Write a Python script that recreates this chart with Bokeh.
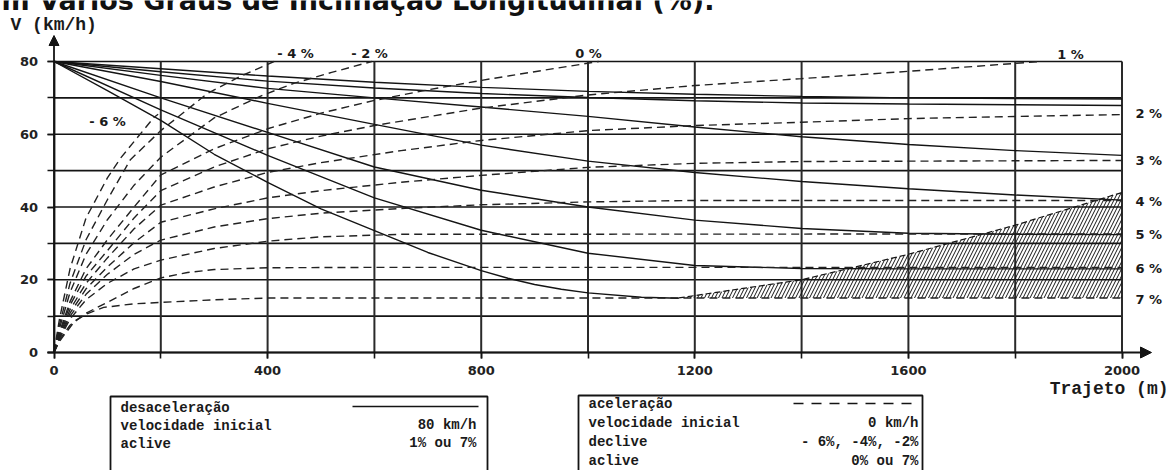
from bokeh.plotting import figure
from bokeh.models import Range1d, LinearAxis, FixedTicker, Arrow, NormalHead, Label, ColumnDataSource
from bokeh.core.properties import value
from bokeh.embed import file_html
from bokeh.resources import INLINE

# ---------------- data ----------------
x_ticks = [0, 200, 400, 600, 800, 1000, 1200, 1400, 1600, 1800, 2000]
x_tick_labels = [0, 400, 800, 1200, 1600, 2000]
y_ticks = [0, 10, 20, 30, 40, 50, 60, 70, 80]
y_tick_labels = [0, 20, 40, 60, 80]

# deceleration curves (solid), initial speed 80 km/h, upgrades 1 % .. 7 %
dec_x = [0, 200, 400, 600, 800, 1000, 1200, 1400, 1600, 1800, 2000]
dec_1 = [80, 78.0, 76.0, 74.3, 72.9, 71.8, 71.0, 70.4, 70.0, 69.8, 69.7]
dec_2 = [80, 77.2, 74.6, 72.7, 71.2, 70.1, 69.2, 68.6, 68.3, 68.1, 67.9]
dec_3 = [80, 76.2, 72.6, 70.0, 67.5, 64.9, 62.0, 59.3, 57.2, 55.5, 54.2]
dec_4 = [80, 74.5, 68.5, 62.7, 57.0, 52.6, 49.5, 47.0, 45.0, 43.3, 41.9]
dec_5 = [80, 70.0, 60.5, 51.0, 44.6, 40.0, 36.4, 34.1, 32.8, 32.5, 32.4]
dec_6 = [80, 66.7, 54.2, 42.5, 33.6, 27.3, 23.9, 23.1, 23.0, 23.0, 23.0]
dec7_x = [0, 100, 200, 300, 400, 500, 600, 700, 800, 850, 900, 950, 1000, 1100, 1170]
dec_7 = [80, 72.0, 63.8, 54.5, 46.8, 39.5, 33.5, 27.5, 22.5, 20.4, 18.7, 17.4, 16.4, 15.2, 14.9]

# acceleration curves (dashed), initial speed 0 km/h
acc_m6_x = [0, 10, 30, 60, 100, 125, 150, 187, 195]
acc_m6 = [0, 9.0, 23.0, 37.0, 48.0, 53.5, 58.0, 64.6, 65.5]
acc_m4_x = [0, 10, 30, 60, 100, 143, 200, 231, 287, 350, 412]
acc_m4 = [0, 7.5, 19.0, 31.0, 42.0, 53.0, 61.0, 64.6, 71.2, 76.0, 80.0]
acc_m2_x = [0, 10, 30, 60, 100, 150, 200, 300, 387, 449, 520, 595]
acc_m2 = [0, 6.5, 16.5, 27.0, 36.5, 46.0, 53.7, 64.5, 70.5, 74.0, 77.0, 80.0]
acc_0_x = [0, 10, 30, 60, 100, 150, 200, 300, 400, 500, 600, 700, 800, 900, 1020]
acc_0 = [0, 5.5, 14.0, 23.0, 31.0, 40.0, 48.8, 56.0, 61.5, 65.8, 69.3, 72.2, 74.8, 77.2, 80.0]
acc_1_x = [0, 10, 30, 60, 100, 150, 200, 300, 400, 500, 600, 800, 1000, 1200, 1400, 1600, 1847]
acc_1 = [0, 5.0, 13.0, 21.0, 28.0, 37.0, 44.5, 51.0, 56.0, 59.5, 62.4, 67.2, 70.8, 73.4, 75.3, 77.3, 80.0]
acc_2_x = [0, 10, 30, 60, 100, 150, 200, 300, 400, 500, 650, 800, 1000, 1200, 1400, 1600, 1800, 2000]
acc_2 = [0, 4.6, 11.8, 19.0, 26.0, 34.0, 40.5, 45.5, 49.5, 52.2, 55.5, 58.3, 61.0, 62.4, 63.3, 64.3, 64.9, 65.4]
acc_3_x = [0, 10, 30, 60, 100, 150, 200, 300, 400, 500, 650, 800, 1000, 1200, 1400, 2000]
acc_3 = [0, 4.3, 10.8, 17.5, 23.5, 30.2, 35.8, 39.5, 42.5, 44.5, 46.8, 48.7, 50.9, 52.0, 52.5, 52.8]
acc_4_x = [0, 10, 30, 60, 100, 150, 200, 300, 400, 500, 650, 800, 1000, 1200, 2000]
acc_4 = [0, 4.0, 10.0, 16.0, 21.5, 27.0, 30.9, 34.5, 36.8, 38.3, 39.6, 40.6, 41.4, 41.8, 41.8]
acc_5_x = [0, 10, 30, 60, 100, 150, 200, 300, 400, 500, 650, 2000]
acc_5 = [0, 3.7, 9.2, 14.5, 19.0, 23.0, 25.4, 28.6, 30.6, 31.8, 32.5, 32.6]
acc_6_x = [0, 10, 30, 60, 100, 150, 200, 250, 300, 400, 600, 2000]
acc_6 = [0, 3.4, 7.5, 10.8, 13.8, 17.6, 20.5, 22.0, 22.8, 23.3, 23.4, 23.4]
acc_7_x = [0, 10, 20, 40, 63, 93, 150, 204, 300, 405, 2000]
acc_7 = [0, 3.0, 5.0, 8.8, 10.7, 12.4, 13.4, 13.8, 14.5, 15.0, 15.0]

# hatched zone
hatch_x = [1170, 1400, 1600, 1800, 2000]
hatch_top = [15.0, 20.0, 27.0, 35.0, 44.0]
hatch_bottom = [15.0, 15.0, 15.0, 15.0, 15.0]

top_labels = ["- 6 %", "- 4 %", "- 2 %", "0 %", "1 %"]
right_labels = ["2 %", "3 %", "4 %", "5 %", "6 %", "7 %"]

title_text = "m Vários Graus de Inclinação Longitudinal (%)."
legend1_left = ["desaceleração", "velocidade inicial", "aclive"]
legend1_right = ["80 km/h", "1% ou 7%"]
legend2_left = ["aceleração", "velocidade inicial", "declive", "aclive"]
legend2_right = ["0 km/h", "- 6%, -4%, -2%", "0% ou 7%"]

# ---------------- layout (pixel calibration) ----------------
W, H = 1171, 470
PX0, SX = 53.5, 0.534      # pixel of x=0, pixels per metre
PY0, SY = 352.0, 3.6375    # pixel of V=0, pixels per km/h
x_start, x_end = -PX0 / SX, (W - PX0) / SX
y_end, y_start = PY0 / SY, -(H - PY0) / SY


def X(px):
    return x_start + px / SX


def Y(py):
    return y_end - py / SY


p = figure(width=W, height=H, x_range=Range1d(x_start, x_end), y_range=Range1d(y_start, y_end),
           output_backend="svg", toolbar_location=None, min_border=0,
           x_axis_type=None, y_axis_type=None, outline_line_color=None,
           background_fill_color="white", border_fill_color="white")

INK = "#141414"

# grid
p.segment(x0=[x_ticks[0]] * len(y_ticks), x1=[x_ticks[-1]] * len(y_ticks), y0=y_ticks, y1=y_ticks,
          line_color=INK, line_width=1.6)
p.segment(x0=x_ticks, x1=x_ticks, y0=[y_ticks[0]] * len(x_ticks), y1=[y_ticks[-1]] * len(x_ticks),
          line_color="#2a2a2a", line_width=2.0)

# axes
xax = LinearAxis(fixed_location=0, ticker=FixedTicker(ticks=x_tick_labels, minor_ticks=x_ticks),
                 bounds=(X(46.5), x_ticks[-1]))
yax = LinearAxis(fixed_location=0, ticker=FixedTicker(ticks=y_tick_labels, minor_ticks=y_ticks),
                 bounds=(y_ticks[0], y_ticks[-1]))
for ax, tout in ((xax, 6), (yax, 7)):
    ax.axis_line_color = INK
    ax.axis_line_width = 1.8
    ax.major_tick_out = tout
    ax.major_tick_in = 0
    ax.minor_tick_out = tout
    ax.minor_tick_in = 0
    ax.major_tick_line_width = 1.6
    ax.minor_tick_line_width = 1.6
    ax.major_tick_line_color = INK
    ax.minor_tick_line_color = INK
    ax.major_label_text_font = "DejaVu Sans"
    ax.major_label_text_font_style = "bold"
    ax.major_label_text_font_size = "13px"
    ax.major_label_text_color = "#222222"
xax.major_label_standoff = 7
yax.major_label_standoff = 9
p.add_layout(xax, "below")
p.add_layout(yax, "left")

p.add_layout(Arrow(end=NormalHead(size=11, fill_color=INK, line_color=INK), x_start=x_ticks[-1], y_start=0,
                   x_end=X(1151), y_end=0, line_width=1.8, line_color=INK))
p.add_layout(Arrow(end=NormalHead(size=10, fill_color=INK, line_color=INK), x_start=0, y_start=y_ticks[-1],
                   x_end=0, y_end=Y(35), line_width=1.8, line_color=INK))

# hatched zone
p.patch(hatch_x + hatch_x[::-1], hatch_top + hatch_bottom[::-1], fill_alpha=0, line_alpha=0,
        hatch_pattern="/", hatch_color=INK, hatch_scale=7, hatch_weight=1.0)
p.line(hatch_x, hatch_top, line_color=INK, line_width=1.2, line_dash="6 3")

# deceleration (solid)
for ys in (dec_1, dec_2, dec_3, dec_4, dec_5, dec_6):
    p.line(dec_x, ys, line_color=INK, line_width=1.4)
p.line(dec7_x, dec_7, line_color=INK, line_width=1.4)

# acceleration (dashed)
for xs, ys in ((acc_m6_x, acc_m6), (acc_m4_x, acc_m4), (acc_m2_x, acc_m2), (acc_0_x, acc_0),
               (acc_1_x, acc_1), (acc_2_x, acc_2), (acc_3_x, acc_3), (acc_4_x, acc_4),
               (acc_5_x, acc_5), (acc_6_x, acc_6), (acc_7_x, acc_7)):
    p.line(xs, ys, line_color="#222222", line_width=1.4, line_dash="8 5")


def txt(xs, ys, texts, font, size, align="left", bold=True, color="#1a1a1a", baseline="middle"):
    src = ColumnDataSource(dict(x=xs, y=ys, t=texts))
    p.text(x="x", y="y", text="t", source=src, text_font=value(font), text_font_size=size,
           text_font_style="bold" if bold else "normal", text_align=align,
           text_baseline=baseline, text_color=color)


# curve labels
txt([X(107), X(295), X(369), X(588), X(1070)], [Y(121), Y(53), Y(53), Y(53), Y(54)],
    top_labels, "DejaVu Sans", "13px", align="center")
txt([X(1135)] * 6, [Y(113), Y(160), Y(201), Y(234), Y(268), Y(299)],
    right_labels, "DejaVu Sans", "13px")

# axis titles
txt([X(10)], [Y(24)], ["V (km/h)"], "Liberation Mono", "18px")
txt([X(1168)], [Y(388)], ["Trajeto (m)"], "Liberation Mono", "18px", align="right")

# title (cut at the top of the picture, as in the source)
p.add_layout(Label(x=X(1), y=Y(0), text=title_text, text_font="DejaVu Sans", text_font_style="bold",
                   text_font_size="27px", text_baseline="alphabetic", text_color="#111111"))

# legend boxes
p.quad(left=[X(110), X(578)], right=[X(487), X(922)], top=[Y(396), Y(395)], bottom=[Y(485), Y(485)],
       fill_alpha=0, line_color=INK, line_width=1.8)
txt([X(120)] * 3, [Y(407), Y(425), Y(443)], legend1_left, "Liberation Mono", "14px")
txt([X(476)] * 2, [Y(424), Y(442)], legend1_right, "Liberation Mono", "14px", align="right")
p.line([X(352), X(478)], [Y(406), Y(406)], line_color=INK, line_width=1.4)
txt([X(588)] * 4, [Y(403), Y(422), Y(441), Y(460)], legend2_left, "Liberation Mono", "14px")
txt([X(918)] * 3, [Y(422), Y(441), Y(460)], legend2_right, "Liberation Mono", "14px", align="right")
p.line([X(793), X(918)], [Y(403), Y(403)], line_color=INK, line_width=1.4, line_dash="10 8")

open("out.html", "w").write(file_html(p, INLINE))
